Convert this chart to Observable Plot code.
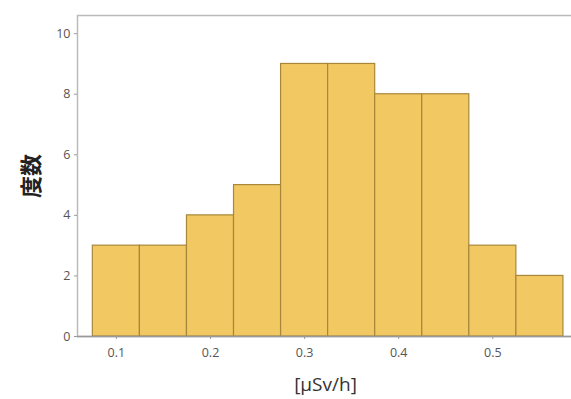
<!DOCTYPE html>
<html><head><meta charset="utf-8">
<script src="https://cdn.jsdelivr.net/npm/d3@7"></script>
<script src="https://cdn.jsdelivr.net/npm/@observablehq/plot@0.6"></script>
<style>body{margin:0;background:#fff;} svg{display:block;}</style>
</head><body><div id="chart"></div>
<script>
const binStart = [0.075, 0.125, 0.175, 0.225, 0.275, 0.325, 0.375, 0.425, 0.475, 0.525];
const binEnd   = [0.125, 0.175, 0.225, 0.275, 0.325, 0.375, 0.425, 0.475, 0.525, 0.575];
const counts   = [3, 3, 4, 5, 9, 9, 8, 8, 3, 2];
const xTicks = [0.1, 0.2, 0.3, 0.4, 0.5];
const yTicks = [0, 2, 4, 6, 8, 10];
const data = counts.map((c, i) => ({x1: binStart[i], x2: binEnd[i], y: c}));

const chart = Plot.plot({
  width: 571, height: 399,
  marginLeft: 77, marginRight: -2, marginTop: 15, marginBottom: 63,
  style: {fontFamily: "'Open Sans', 'Noto Sans CJK JP', sans-serif", fontSize: "12.5px", color: "#555", background: "#fff", overflow: "hidden"},
  x: {domain: [0.0587, 0.5857]},
  y: {domain: [0, 10.6]},
  marks: [
    Plot.frame({stroke: "#bbb", strokeWidth: 1.5}),
    Plot.rectY(data, {x1: "x1", x2: "x2", y: "y", fill: "#f1c862", stroke: "#a8873a", strokeWidth: 1.2}),
    Plot.ruleY([0], {stroke: "#999", strokeWidth: 1.5}),
    Plot.axisY({ticks: yTicks, tickSize: 3, tickPadding: 4, stroke: "#999", label: "度数", labelAnchor: "center", labelOffset: 54, labelArrow: "none"}),
    Plot.axisX({ticks: xTicks, tickSize: 3, tickPadding: 9, stroke: "#999", tickFormat: d3.format(".1f"), label: "[μSv/h]", labelAnchor: "center", labelOffset: 54, labelArrow: "none"})
  ]
});
d3.select(chart).selectAll("[aria-label='x-axis label'] text").style("font-size", "19px").style("fill", "#333");
d3.select(chart).selectAll("[aria-label='y-axis label'] text").style("font-size", "22px").style("fill", "#222").style("font-family", "'Noto Sans CJK JP', sans-serif").style("font-weight", "bold");
document.getElementById("chart").append(chart);
</script></body></html>
